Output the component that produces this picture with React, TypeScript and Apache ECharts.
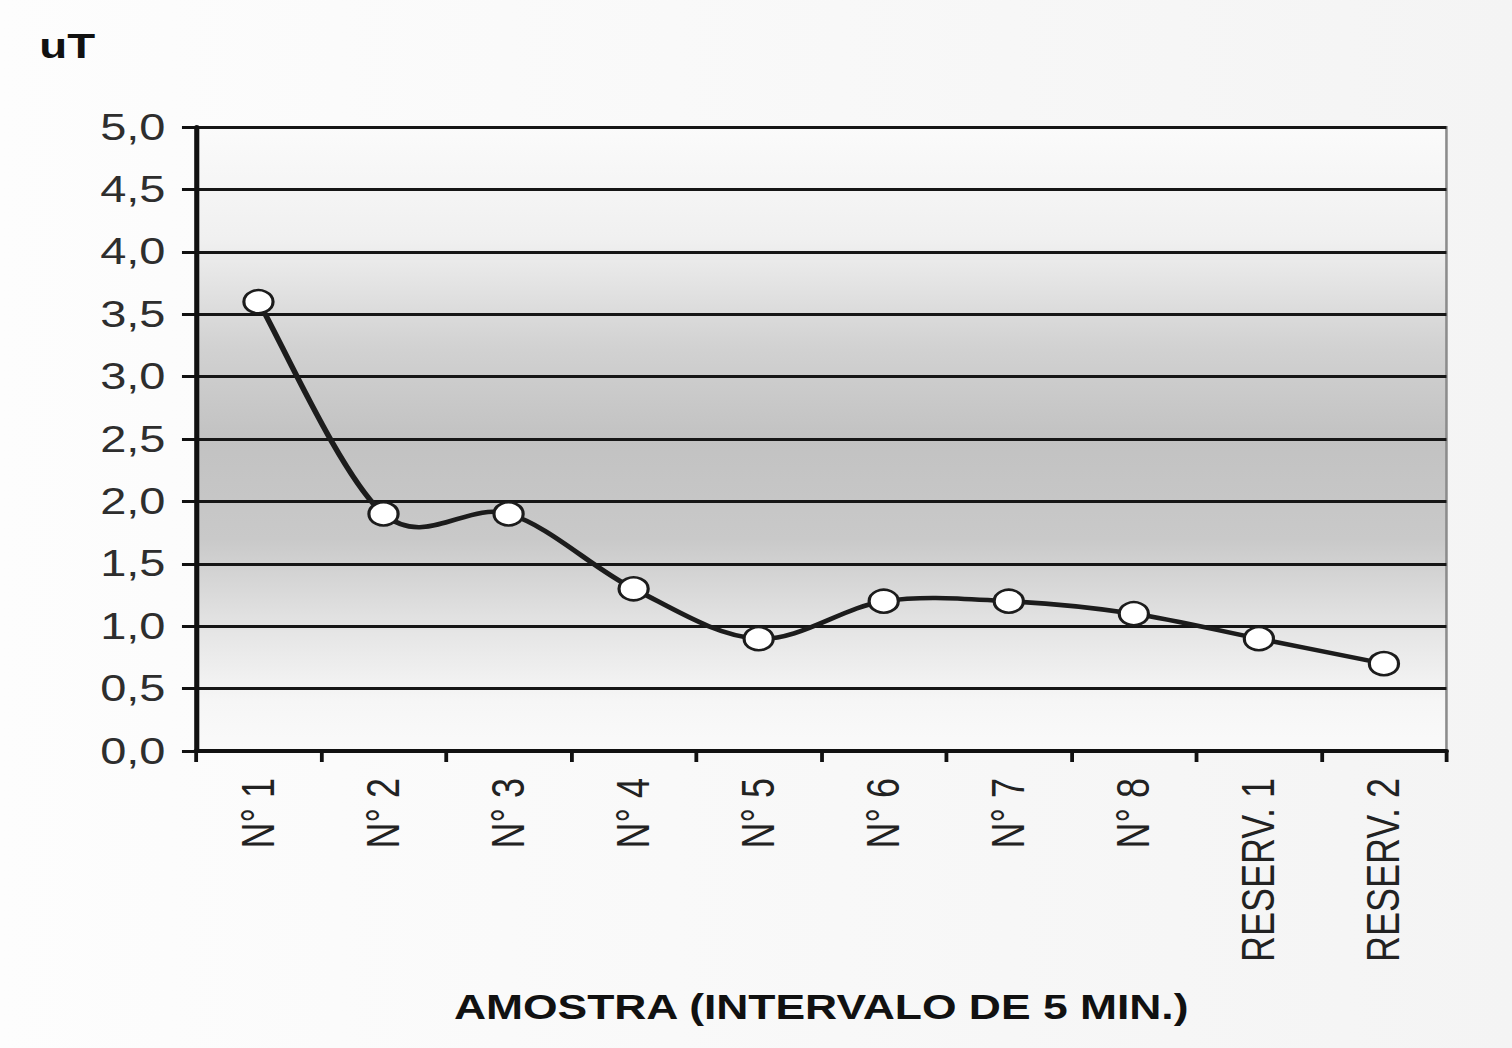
import React, { useEffect, useRef } from "react";
import * as echarts from "echarts";

// Amostras (intervalo de 5 min) e leituras de campo magnético em uT
const categories = ["N° 1", "N° 2", "N° 3", "N° 4", "N° 5", "N° 6", "N° 7", "N° 8", "RESERV. 1", "RESERV. 2"];
const readings = [3.6, 1.9, 1.9, 1.3, 0.9, 1.2, 1.2, 1.1, 0.9, 0.7];
const yTicks = { min: 0, max: 5, interval: 0.5 };
const unitLabel = "uT";
const xTitle = "AMOSTRA (INTERVALO DE 5 MIN.)";

// The chart is laid out narrower and widened with a horizontal stretch
const STRETCH = 1.27;
const PAGE_W = 1512;
const PAGE_H = 1048;
const CHART_W = Math.round(PAGE_W / STRETCH);

const FONT = "'Liberation Sans', Arial, sans-serif";
const INK = "#1c1c1c";

// Spreadsheet-style smoothed curve: cubic Bézier segments whose handles
// are one sixth of the chord between the neighbouring points.
function smoothPath(pts: number[][]): string {
  if (!pts.length) return "";
  let d = `M${pts[0][0]},${pts[0][1]}`;
  for (let i = 0; i < pts.length - 1; i++) {
    const p0 = pts[Math.max(i - 1, 0)];
    const p1 = pts[i];
    const p2 = pts[i + 1];
    const p3 = pts[Math.min(i + 2, pts.length - 1)];
    const c1x = p1[0] + (p2[0] - p0[0]) / 6;
    const c1y = p1[1] + (p2[1] - p0[1]) / 6;
    const c2x = p2[0] - (p3[0] - p1[0]) / 6;
    const c2y = p2[1] - (p3[1] - p1[1]) / 6;
    d += ` C${c1x},${c1y} ${c2x},${c2y} ${p2[0]},${p2[1]}`;
  }
  return d;
}

export default function App() {
  const ref = useRef<HTMLDivElement>(null);

  useEffect(() => {
    if (!ref.current) return;
    const chart = echarts.init(ref.current, null, { renderer: "svg" });
    const plotLeft = 196 / STRETCH;
    const plotRight = CHART_W - 1447 / STRETCH;
    const plotCenter = plotLeft + (CHART_W - plotRight - plotLeft) / 2;

    chart.setOption({
      animation: false,
      backgroundColor: new echarts.graphic.LinearGradient(0, 0, 1, 0, [
        { offset: 0, color: "#fdfdfd" },
        { offset: 1, color: "#f4f4f4" },
      ]),
      grid: {
        left: plotLeft,
        right: plotRight,
        top: 127,
        bottom: PAGE_H - 751,
        show: true,
        borderColor: "#8c8c8c",
        borderWidth: 2,
        backgroundColor: new echarts.graphic.LinearGradient(0, 0, 0, 1, [
          { offset: 0, color: "#fbfbfb" },
          { offset: 0.18, color: "#f0f0f0" },
          { offset: 0.35, color: "#d2d2d2" },
          { offset: 0.5, color: "#c2c2c2" },
          { offset: 0.66, color: "#c9c9c9" },
          { offset: 0.8, color: "#e4e4e4" },
          { offset: 0.92, color: "#f6f6f6" },
          { offset: 1, color: "#fafafa" },
        ]),
      },
      xAxis: {
        type: "category",
        data: categories,
        boundaryGap: true,
        axisLine: { show: true, lineStyle: { color: "#111", width: 4 } },
        axisTick: { show: true, alignWithLabel: false, length: 11, lineStyle: { color: "#111", width: 3 } },
        axisLabel: {
          rotate: 90,
          margin: 27,
          fontFamily: FONT,
          fontSize: 36,
          color: "#222",
          interval: 0,
        },
        splitLine: { show: false },
      },
      yAxis: {
        type: "value",
        min: yTicks.min,
        max: yTicks.max,
        interval: yTicks.interval,
        axisLine: { show: true, lineStyle: { color: "#111", width: 4 } },
        axisTick: { show: true, length: 11, lineStyle: { color: "#111", width: 3 } },
        axisLabel: {
          margin: 24,
          fontFamily: FONT,
          fontSize: 37,
          color: "#2e2e2e",
          formatter: (v: number) => v.toFixed(1).replace(".", ","),
        },
        splitLine: { show: true, lineStyle: { color: "#161616", width: 3 } },
      },
      graphic: [
        {
          type: "text",
          x: 31,
          y: 28,
          style: {
            text: unitLabel,
            font: `bold 36px ${FONT}`,
            fill: "#111",
          },
        },
        {
          type: "text",
          x: plotCenter,
          y: 1007,
          style: {
            text: xTitle,
            font: `bold 35px ${FONT}`,
            fill: "#111",
            textAlign: "center",
            textVerticalAlign: "middle",
          },
        },
      ],
      series: [
        {
          // the smoothed curve through all readings
          type: "custom",
          coordinateSystem: "cartesian2d",
          data: [[0, readings[0]]],
          z: 4,
          renderItem: (_params: any, api: any) => {
            const pts = readings.map((v, i) => api.coord([i, v]));
            return {
              type: "path",
              shape: { pathData: smoothPath(pts) },
              style: { fill: "none", stroke: INK, lineWidth: 4.5 },
            };
          },
        },
        {
          // circular markers at each reading
          type: "scatter",
          data: readings,
          symbol: "circle",
          symbolSize: 23,
          itemStyle: { color: "#ffffff", borderColor: INK, borderWidth: 2.5, opacity: 1 },
          z: 6,
        },
      ],
    });

    return () => chart.dispose();
  }, []);

  return (
    <div
      ref={ref}
      style={{
        position: "fixed",
        left: 0,
        top: 0,
        width: CHART_W,
        height: PAGE_H,
        transform: `scaleX(${PAGE_W / CHART_W})`,
        transformOrigin: "0 0",
      }}
    />
  );
}
